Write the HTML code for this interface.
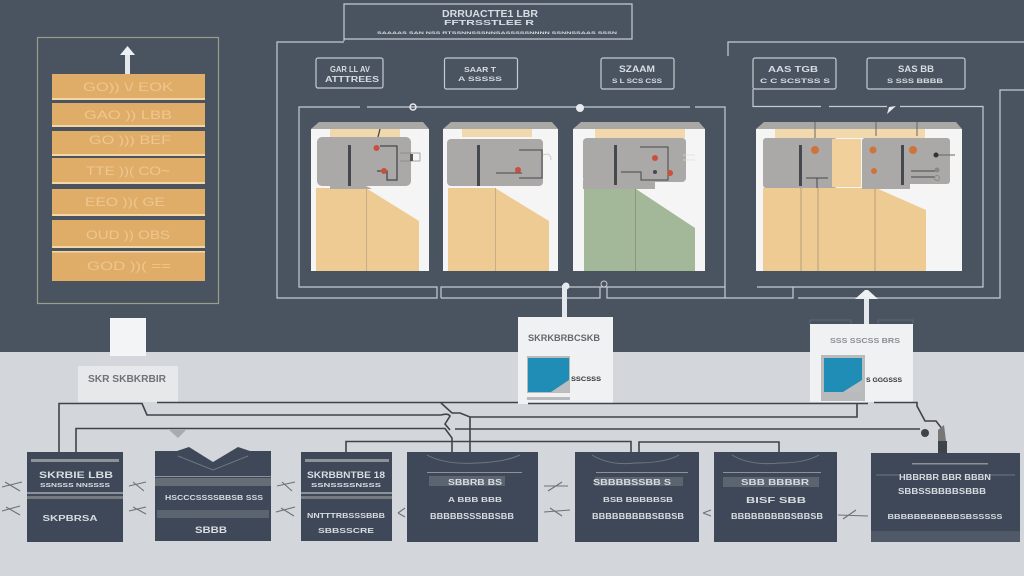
<!DOCTYPE html>
<html><head><meta charset="utf-8"><style>
html,body{margin:0;padding:0;background:#4a5360;width:1024px;height:576px;overflow:hidden}
svg{display:block}
text{font-family:"Liberation Sans",sans-serif;font-weight:700}
.l{fill:#d8dde2;text-anchor:middle}
.d{fill:#6f7378;text-anchor:middle}
.t{fill:#edc78f;text-anchor:middle;font-size:12px;font-weight:400}
</style></head><body>
<svg width="1024" height="576" viewBox="0 0 1024 576" xmlns="http://www.w3.org/2000/svg">
<rect width="1024" height="576" fill="#4a5360"/>
<rect y="352" width="1024" height="224" fill="#d3d6da"/>

<!-- left frame -->
<rect x="37.500" y="37.500" width="181" height="266" fill="none" stroke="#989d8f" stroke-width="1.200"/>
<rect x="125" y="54" width="5" height="21" fill="#e4e8ec"/>
<path d="M120 55L127.500 46L135 55Z" fill="#eef1f4"/>
<g fill="#e0ad69">
<rect x="52" y="74" width="153" height="26"/><rect x="52" y="103" width="153" height="24"/><rect x="52" y="131" width="153" height="25"/><rect x="52" y="158" width="153" height="26"/><rect x="52" y="189" width="153" height="27"/><rect x="52" y="220" width="153" height="28"/><rect x="52" y="251" width="153" height="30"/>
</g>
<g fill="#f3d6a6">
<rect x="52" y="98" width="153" height="2"/><rect x="52" y="125" width="153" height="2"/><rect x="52" y="154" width="153" height="2"/><rect x="52" y="182" width="153" height="2"/><rect x="52" y="214" width="153" height="2"/><rect x="52" y="246" width="153" height="2"/><rect x="52" y="251" width="153" height="1.500"/>
</g>
<text class="t" x="128" y="91" textLength="90" lengthAdjust="spacingAndGlyphs">GO)) \/ EOK</text>
<text class="t" x="128" y="119" textLength="88" lengthAdjust="spacingAndGlyphs">GAO )) LBB</text>
<text class="t" x="130" y="144" textLength="82" lengthAdjust="spacingAndGlyphs">GO ))) BEF</text>
<text class="t" x="128" y="175" textLength="84" lengthAdjust="spacingAndGlyphs">TTE ))( CO~</text>
<text class="t" x="125" y="206" textLength="80" lengthAdjust="spacingAndGlyphs">EEO ))( GE</text>
<text class="t" x="128" y="239" textLength="84" lengthAdjust="spacingAndGlyphs">OUD )) OBS</text>
<text class="t" x="129" y="270" textLength="84" lengthAdjust="spacingAndGlyphs">GOD ))( ==</text>

<!-- frames -->
<g fill="none" stroke="#c5cbd1" stroke-width="1.200">
<path d="M344 41V4H632V39H344"/>
<path d="M344 42H277V298H437V287H299V107H360M367 107H690M695 107H725V298"/>
<path d="M441 298V287H725M441 298H600V287M607 287V298H793V287H757M798 298H1000V90H1024"/>
<path d="M728 56V42H1024"/>
<path d="M753 89V106.500H821M829 106.500H887M900 106.500H983V287H793"/>
<rect x="316" y="58" width="67" height="30" rx="2"/>
<rect x="444.500" y="58" width="73" height="31" rx="2"/>
<rect x="601" y="58" width="73" height="31" rx="2"/>
<rect x="753" y="58" width="83" height="31" rx="2"/>
<rect x="867" y="58" width="98" height="31" rx="2"/>
</g>
<path d="M887 114L889 107L896 106Z" fill="#e8ebee"/>
<circle cx="413" cy="107" r="3" fill="none" stroke="#e8ebee" stroke-width="1.500"/>
<circle cx="580" cy="108" r="4" fill="#e8ebee"/>
<circle cx="566" cy="286" r="3.500" fill="#e8ebee"/>
<circle cx="604" cy="284" r="3" fill="none" stroke="#c5cbd1"/>

<text class="l" x="490" y="17" font-size="10" textLength="96" lengthAdjust="spacingAndGlyphs">DRRUACTTE1 LBR</text>
<text class="l" x="489" y="25" font-size="7" textLength="90" lengthAdjust="spacingAndGlyphs">FFTRSSTLEE R</text>
<text class="l" x="497" y="34" font-size="4" textLength="240" lengthAdjust="spacingAndGlyphs">SAAAAS SAN NSS RTSSNNSSSNNSASSSSSNNNN SSNNSSAAS SSSN</text>
<text class="l" x="350" y="72" font-size="8" textLength="40" lengthAdjust="spacingAndGlyphs">GAR LL AV</text>
<text class="l" x="352" y="82" font-size="8" textLength="54" lengthAdjust="spacingAndGlyphs">ATTTREES</text>
<text class="l" x="480" y="72" font-size="7" textLength="32" lengthAdjust="spacingAndGlyphs">SAAR T</text>
<text class="l" x="480" y="81" font-size="6" textLength="44" lengthAdjust="spacingAndGlyphs">A SSSSS</text>
<text class="l" x="637" y="72" font-size="9" textLength="36" lengthAdjust="spacingAndGlyphs">SZAAM</text>
<text class="l" x="637" y="83" font-size="6" textLength="50" lengthAdjust="spacingAndGlyphs">S L SCS CSS</text>
<text class="l" x="793" y="72" font-size="8" textLength="50" lengthAdjust="spacingAndGlyphs">AAS TGB</text>
<text class="l" x="795" y="83" font-size="6" textLength="70" lengthAdjust="spacingAndGlyphs">C C SCSTSS S</text>
<text class="l" x="916" y="72" font-size="9" textLength="36" lengthAdjust="spacingAndGlyphs">SAS BB</text>
<text class="l" x="915" y="83" font-size="6" textLength="56" lengthAdjust="spacingAndGlyphs">S SSS BBBB</text>

<!-- panel 1 -->
<path d="M311 129L319 122H423L429 129Z" fill="#a9a8a5"/>
<rect x="311" y="129" width="118" height="142" fill="#f5f5f5"/>
<rect x="330" y="129" width="70" height="8" fill="#f1d9ad"/>
<path d="M316 188H366L419 221V271H316Z" fill="#edcb93"/>
<rect x="317" y="137" width="94" height="49" rx="5" fill="#aaa9a7"/>
<path d="M366 186L372 189H330V186Z" fill="#aaa9a7"/>
<rect x="348" y="145" width="3" height="41" fill="#45484c"/>
<rect x="366" y="188" width="1" height="83" fill="#c6ae88"/>
<path d="M377 171H387V180H397V146H380M380 129L378 137" fill="none" stroke="#45484c" stroke-width="1.300"/>
<circle cx="376.500" cy="148" r="3" fill="#c8503c"/><circle cx="384" cy="171" r="3" fill="#c8503c"/>
<path d="M400 153H420V161H400" fill="none" stroke="#888" stroke-width=".7"/><rect x="410" y="154" width="3" height="7" fill="#555"/>

<!-- panel 2 -->
<path d="M443 129L451 122H552L558 129Z" fill="#a9a8a5"/>
<rect x="443" y="129" width="115" height="142" fill="#f5f5f5"/>
<rect x="462" y="129" width="70" height="8" fill="#f1d9ad"/>
<path d="M448 188H495L549 221V271H448Z" fill="#edcb93"/>
<rect x="447" y="139" width="96" height="47" rx="4" fill="#aaa9a7"/>
<rect x="477" y="145" width="3" height="41" fill="#45484c"/>
<rect x="495" y="188" width="1" height="83" fill="#c6ae88"/>
<path d="M496 173H522M519 150H542V178H519" fill="none" stroke="#45484c" stroke-width="1"/>
<circle cx="518" cy="170" r="3" fill="#c8503c"/>
<path d="M543 155Q551 152 551 160" fill="none" stroke="#ccc"/>

<!-- panel 3 -->
<path d="M573 129L581 122H699L705 129Z" fill="#a9a8a5"/>
<rect x="573" y="129" width="132" height="142" fill="#f5f5f5"/>
<rect x="595" y="129" width="90" height="9" fill="#f1d9ad"/>
<path d="M584 189H636L695 228V271H584Z" fill="#a3b898"/>
<rect x="583" y="138" width="103" height="44" rx="4" fill="#aaa9a7"/>
<rect x="583" y="180" width="72" height="9" fill="#aaa9a7"/>
<rect x="614" y="145" width="3" height="40" fill="#45484c"/>
<rect x="635" y="189" width="1" height="82" fill="#89987f"/>
<path d="M621 172H641V180H668V147H640" fill="none" stroke="#45484c" stroke-width="1"/>
<circle cx="655" cy="158" r="3" fill="#c8503c"/><circle cx="670" cy="173" r="3" fill="#c8503c"/><circle cx="655" cy="172" r="2" fill="#45484c"/>
<path d="M683 155H695M683 160H695" stroke="#ddd" stroke-width=".7"/>

<!-- panel 4 -->
<path d="M756 129L764 122H956L962 129Z" fill="#a9a8a5"/>
<rect x="756" y="129" width="206" height="142" fill="#f5f5f5"/>
<rect x="775" y="129" width="150" height="9" fill="#f1d9ad"/>
<path d="M763 188H876L926 210V271H763Z" fill="#edcb93"/>
<rect x="763" y="138" width="74" height="50" rx="3" fill="#aaa9a7"/>
<rect x="832" y="139" width="29" height="48" fill="#f1d09c"/>
<rect x="862" y="138" width="88" height="46" rx="3" fill="#aaa9a7"/>
<rect x="862" y="180" width="48" height="9" fill="#aaa9a7"/>
<rect x="799" y="145" width="3" height="41" fill="#45484c"/>
<rect x="901" y="145" width="3" height="40" fill="#45484c"/>
<path d="M801 188V271M818 188V271M875 188V271" fill="none" stroke="#b89f78" stroke-width="1"/>
<path d="M806 178H828M817 178V188" stroke="#45484c" stroke-width="1"/>
<circle cx="815" cy="150" r="4" fill="#d0733a"/><circle cx="873" cy="150" r="3.500" fill="#d0733a"/><circle cx="913" cy="150" r="4" fill="#d0733a"/><circle cx="874" cy="171" r="3" fill="#d0733a"/>
<path d="M911 171H935M911 177H935" stroke="#45484c" stroke-width="1"/>
<path d="M935 155H955M815 122V138M876 122V136M917 122V136" stroke="#666" stroke-width="1"/>
<circle cx="936" cy="155" r="2.500" fill="#333"/><circle cx="937" cy="170" r="2.500" fill="#888"/><circle cx="937" cy="178" r="2.500" fill="none" stroke="#888"/>

<!-- white top boxes -->
<rect x="110" y="318" width="36" height="38" fill="#f3f4f5"/>
<rect x="78" y="366" width="100" height="36" fill="#e6e8ea"/>
<text class="d" x="127" y="382" font-size="10" textLength="78" lengthAdjust="spacingAndGlyphs">SKR SKBKRBIR</text>

<!-- arrows from devices -->
<rect x="562" y="285" width="5" height="33" fill="#e4e8ec"/>
<rect x="864" y="296" width="5" height="30" fill="#e4e8ec"/>
<path d="M855 299L865 290H868L878 299Z" fill="#eef1f4"/>

<!-- device 1 -->
<rect x="518" y="317" width="95" height="87" fill="#f0f1f2"/>
<text x="564" y="341" font-size="9" text-anchor="middle" fill="#64686d" textLength="72" lengthAdjust="spacingAndGlyphs">SKRKBRBCSKB</text>
<rect x="527" y="356" width="43" height="37" fill="#b9babb"/>
<rect x="528" y="358" width="41" height="34" fill="#1f8db5"/>
<path d="M551 392L569 380V392Z" fill="#bcbdbe"/>
<rect x="527" y="397" width="43" height="3" fill="#b9babb"/>
<text x="586" y="381" font-size="6" text-anchor="middle" fill="#333" textLength="30" lengthAdjust="spacingAndGlyphs">SSCSSS</text>

<!-- device 2 -->
<path d="M810 325V320H851V325M878 325V320H913V325" fill="none" stroke="#5f6873"/>
<rect x="810" y="324" width="103" height="78" fill="#f0f1f2"/>
<text x="865" y="343" font-size="7" text-anchor="middle" fill="#8a8d91" textLength="70" lengthAdjust="spacingAndGlyphs">SSS SSCSS BRS</text>
<rect x="821" y="355" width="44" height="46" fill="#b9babb"/>
<rect x="824" y="358" width="38" height="34" fill="#1f8db5"/>
<path d="M843 392L862 380V392Z" fill="#bcbdbe"/>
<text x="884" y="382" font-size="6" text-anchor="middle" fill="#333" textLength="36" lengthAdjust="spacingAndGlyphs">S GGGSSS</text>

<!-- connector lines -->
<g fill="none" stroke="#3f444b" stroke-width="1.600">
<path d="M59 453V403.500H142L147 415H441"/>
<path d="M157 402.500H518"/>
<path d="M528 403.500H868M874 402.500H917V406L925 421H936L943 430V452"/>
<path d="M441 403L452 413H460L470 417H857V403.500"/>
<path d="M76 453V428.500H445L452 438V453"/>
<path d="M470 417V453"/>
<path d="M455 429H920"/>
<path d="M346 453V441.500H631V453M639 453V442H779V453"/>
<path d="M441 415Q448 413 450 416L445 424L450 430"/>
</g>
<rect x="938" y="441" width="9" height="12" fill="#3f444b"/>
<path d="M938 430L944 425L946 441H938Z" fill="#777"/>
<circle cx="925" cy="433" r="4" fill="#3f444b"/>
<path d="M168 429H187L178 438Z" fill="#a8abaf"/>

<!-- bottom boxes -->
<g fill="#3f4858">
<rect x="27" y="452" width="96" height="90"/>
<path d="M155 451H177L189 447L213 462L238 447L250 451H271V541H155Z"/>
<rect x="301" y="452" width="91" height="89"/>
<rect x="407" y="452" width="131" height="90"/>
<rect x="575" y="452" width="124" height="90"/>
<rect x="714" y="452" width="123" height="90"/>
<rect x="871" y="453" width="149" height="89"/>
</g>
<g fill="none" stroke="#6d7683" stroke-width="1">
<path d="M427 455Q445 465 478 463Q505 462 520 455"/>
<path d="M592 455Q610 466 635 463Q665 463 679 455"/>
<path d="M732 455Q750 466 780 463Q805 463 819 455"/>
<path d="M178 456L213 470L248 456"/>
<path d="M876 475H900M985 475H1015"/>
</g>
<g fill="#8e9297">
<rect x="31" y="459" width="88" height="3"/>
<rect x="27" y="492" width="96" height="2"/><rect x="27" y="496" width="96" height="3" fill="#777b80"/>
<rect x="155" y="478" width="116" height="8" fill="#666d77"/><rect x="155" y="476" width="116" height="1"/>
<rect x="157" y="510" width="112" height="8" fill="#5c6470"/>
<rect x="305" y="459" width="84" height="3"/>
<rect x="301" y="492" width="91" height="2"/><rect x="301" y="496" width="91" height="3" fill="#777b80"/>
<rect x="427" y="472" width="95" height="1"/><rect x="429" y="476" width="76" height="10" fill="#5c6470"/>
<rect x="596" y="472" width="92" height="1"/><rect x="595" y="477" width="88" height="9" fill="#5c6470"/>
<rect x="723" y="472" width="98" height="1"/><rect x="723" y="477" width="96" height="10" fill="#5c6470"/>
<rect x="912" y="463" width="76" height="1.500"/>
<rect x="871" y="531" width="149" height="11" fill="#4f5967"/>
</g>
<text class="l" x="76" y="478" font-size="9" textLength="74" lengthAdjust="spacingAndGlyphs">SKRBIE LBB</text>
<text class="l" x="75" y="487" font-size="5" textLength="70" lengthAdjust="spacingAndGlyphs">SSNSSS NNSSSS</text>
<text class="l" x="70" y="521" font-size="8" textLength="55" lengthAdjust="spacingAndGlyphs">SKPBRSA</text>
<text class="l" x="214" y="500" font-size="7" textLength="98" lengthAdjust="spacingAndGlyphs">HSCCCSSSSBBSB SSS</text>
<text class="l" x="211" y="533" font-size="9" textLength="32" lengthAdjust="spacingAndGlyphs">SBBB</text>
<text class="l" x="346" y="478" font-size="9" textLength="78" lengthAdjust="spacingAndGlyphs">SKRBBNTBE 18</text>
<text class="l" x="346" y="487" font-size="5" textLength="70" lengthAdjust="spacingAndGlyphs">SSNSSSSNSSS</text>
<text class="l" x="346" y="518" font-size="7" textLength="78" lengthAdjust="spacingAndGlyphs">NNTTTRBSSSBBB</text>
<text class="l" x="346" y="533" font-size="7" textLength="56" lengthAdjust="spacingAndGlyphs">SBBSSCRE</text>
<text class="l" x="475" y="485" font-size="8" textLength="54" lengthAdjust="spacingAndGlyphs">SBBRB BS</text>
<text class="l" x="475" y="502" font-size="7" textLength="54" lengthAdjust="spacingAndGlyphs">A BBB BBB</text>
<text class="l" x="472" y="519" font-size="8" textLength="84" lengthAdjust="spacingAndGlyphs">BBBBBSSSBBSBB</text>
<text class="l" x="632" y="485" font-size="8" textLength="78" lengthAdjust="spacingAndGlyphs">SBBBBSSBB S</text>
<text class="l" x="638" y="502" font-size="7" textLength="70" lengthAdjust="spacingAndGlyphs">BSB BBBBBSB</text>
<text class="l" x="638" y="519" font-size="8" textLength="92" lengthAdjust="spacingAndGlyphs">BBBBBBBBBSBBSB</text>
<text class="l" x="775" y="485" font-size="8" textLength="68" lengthAdjust="spacingAndGlyphs">SBB BBBBR</text>
<text class="l" x="776" y="503" font-size="8" textLength="60" lengthAdjust="spacingAndGlyphs">BISF SBB</text>
<text class="l" x="777" y="519" font-size="8" textLength="92" lengthAdjust="spacingAndGlyphs">BBBBBBBBBSBBSB</text>
<text class="l" x="945" y="480" font-size="8" textLength="92" lengthAdjust="spacingAndGlyphs">HBBRBR BBR BBBN</text>
<text class="l" x="942" y="494" font-size="8" textLength="88" lengthAdjust="spacingAndGlyphs">SBBSSBBBBSBBB</text>
<text class="l" x="945" y="519" font-size="7" textLength="115" lengthAdjust="spacingAndGlyphs">BBBBBBBBBBBSBSSSSS</text>

<!-- side connectors -->
<g fill="none" stroke="#6d7278" stroke-width="1.100">
<path d="M2 487L22 482M5 482L20 491M2 511L20 506M6 507L20 515"/>
<path d="M129 486L146 482M133 482L144 491M129 511L146 507M133 507L146 514"/>
<path d="M277 486L295 482M282 482L292 491M276 512L295 507M281 508L294 516"/>
<path d="M398 513L405 508M398 513L405 517"/>
<path d="M544 486L568 486M548 491L562 482M544 512L570 510M550 508L562 516"/>
<path d="M703 513L711 510M703 513L711 516"/>
<path d="M838 515L868 516M843 519L856 510"/>
</g>
</svg>
</body></html>
